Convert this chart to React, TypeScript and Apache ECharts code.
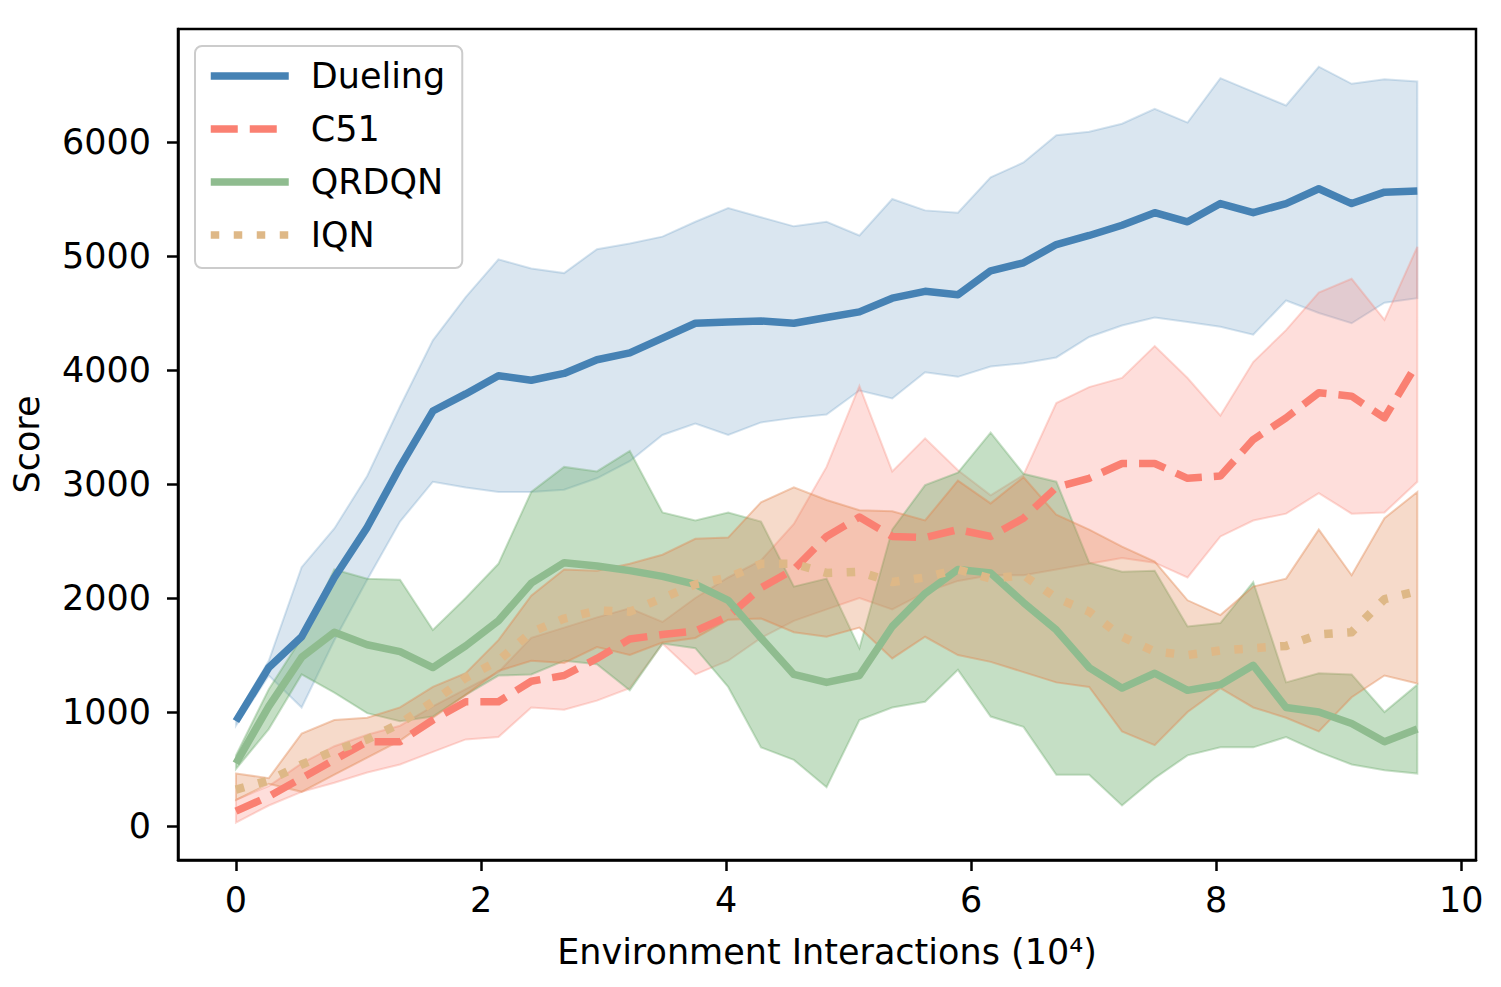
import React, { useEffect, useRef } from "react";
import * as echarts from "echarts";

// x positions (10^4 environment interactions)
const xs = [0, 0.268, 0.536, 0.803, 1.071, 1.339, 1.607, 1.875, 2.142, 2.41, 2.678, 2.946, 3.214, 3.481, 3.749, 4.017, 4.285, 4.553, 4.82, 5.088, 5.356, 5.624, 5.892, 6.159, 6.427, 6.695, 6.963, 7.231, 7.498, 7.766, 8.034, 8.302, 8.57, 8.837, 9.105, 9.373, 9.641];

const duelingMean = [920, 1390, 1660, 2180, 2620, 3150, 3640, 3790, 3950, 3910, 3970, 4090, 4150, 4280, 4410, 4420, 4430, 4410, 4460, 4510, 4630, 4690, 4660, 4870, 4940, 5100, 5180, 5270, 5380, 5300, 5460, 5380, 5460, 5590, 5460, 5560, 5570];
const duelingUpper = [960, 1450, 2270, 2610, 3070, 3680, 4260, 4640, 4970, 4890, 4850, 5060, 5110, 5170, 5300, 5420, 5340, 5260, 5300, 5180, 5500, 5400, 5380, 5690, 5820, 6060, 6090, 6160, 6290, 6170, 6560, 6440, 6320, 6660, 6510, 6550, 6530];
const duelingLower = [880, 1320, 1040, 1630, 2160, 2670, 3020, 2970, 2930, 2930, 2950, 3050, 3200, 3430, 3530, 3430, 3540, 3580, 3610, 3820, 3750, 3980, 3940, 4030, 4060, 4110, 4290, 4390, 4460, 4420, 4380, 4310, 4610, 4500, 4410, 4590, 4630];

const c51Mean = [130, 260, 420, 580, 740, 740, 930, 1090, 1090, 1270, 1320, 1470, 1640, 1680, 1710, 1840, 2090, 2250, 2540, 2710, 2540, 2530, 2600, 2540, 2700, 2970, 3050, 3180, 3180, 3050, 3070, 3390, 3580, 3800, 3770, 3580, 4060];
const c51Upper = [230, 350, 550, 700, 800, 880, 1050, 1200, 1350, 1650, 1740, 1830, 1910, 1790, 2000, 2180, 2330, 2650, 3150, 3860, 3110, 3400, 3120, 2900, 3080, 3710, 3850, 3930, 4210, 3930, 3600, 4070, 4350, 4680, 4800, 4440, 5080];
const c51Lower = [30, 180, 300, 380, 470, 540, 650, 760, 780, 1040, 1020, 1100, 1210, 1600, 1330, 1450, 1650, 1800, 1900, 2000, 1900, 2050, 2150, 2200, 2200, 2250, 2300, 2350, 2310, 2180, 2540, 2680, 2740, 2920, 2740, 2750, 3020];

const qrdqnMean = [550, 1050, 1480, 1700, 1590, 1530, 1390, 1580, 1800, 2130, 2310, 2280, 2240, 2190, 2120, 1980, 1650, 1330, 1260, 1320, 1750, 2040, 2250, 2220, 1960, 1720, 1390, 1210, 1340, 1190, 1240, 1410, 1040, 1000, 900, 740, 850];
const qrdqnUpper = [620, 1200, 1650, 2250, 2170, 2160, 1720, 2000, 2300, 2930, 3150, 3110, 3290, 2750, 2680, 2750, 2670, 2100, 2170, 1560, 2600, 2990, 3100, 3450, 3090, 3020, 2310, 2230, 2240, 1750, 1780, 2140, 1260, 1340, 1330, 1000, 1240];
const qrdqnLower = [500, 850, 1330, 1170, 990, 920, 960, 1150, 1320, 1330, 1450, 1420, 1190, 1600, 1560, 1220, 690, 580, 340, 930, 1040, 1090, 1370, 960, 870, 450, 450, 180, 420, 620, 690, 690, 780, 650, 540, 490, 460];

const iqnMean = [320, 400, 540, 660, 760, 900, 1090, 1300, 1450, 1700, 1820, 1890, 1880, 2000, 2120, 2180, 2300, 2300, 2220, 2230, 2140, 2180, 2250, 2170, 2200, 2000, 1880, 1660, 1530, 1500, 1540, 1560, 1580, 1680, 1700, 1990, 2060];
const iqnUpper = [460, 420, 810, 930, 950, 1040, 1220, 1340, 1630, 2020, 2250, 2240, 2300, 2380, 2520, 2530, 2840, 2970, 2860, 2770, 2760, 2680, 3030, 2830, 3060, 2730, 2600, 2450, 2320, 1980, 1850, 2100, 2170, 2600, 2200, 2700, 2930];
const iqnLower = [230, 370, 300, 450, 600, 750, 950, 1150, 1360, 1450, 1430, 1570, 1500, 1610, 1650, 1810, 1820, 1700, 1660, 1740, 1470, 1660, 1500, 1440, 1350, 1260, 1220, 830, 710, 1000, 1210, 1040, 950, 830, 1130, 1320, 1250];

const xTicks = [0, 2, 4, 6, 8, 10];
const yTicks = [0, 1000, 2000, 3000, 4000, 5000, 6000];
const legendNames = ["Dueling", "C51", "QRDQN", "IQN"];

const FONT = "DejaVu Sans";

function bandSeries(name: string, lower: number[], upper: number[], fill: string, stroke: string) {
  return {
    type: "custom",
    name,
    silent: true,
    z: 1,
    data: xs.map((x, i) => [x, lower[i], upper[i]]),
    encode: { x: 0, y: [1, 2] },
    renderItem: (params: any, api: any) => {
      if (params.dataIndex !== 0) return null;
      const pts: number[][] = [];
      for (let i = 0; i < xs.length; i++) pts.push(api.coord([xs[i], upper[i]]));
      for (let i = xs.length - 1; i >= 0; i--) pts.push(api.coord([xs[i], lower[i]]));
      return {
        type: "polygon",
        shape: { points: pts },
        style: { fill, stroke, lineWidth: 2 },
      };
    },
  };
}

function lineSeries(name: string, mean: number[], color: string, width: number, type: any) {
  return {
    type: "line",
    name,
    z: 3,
    symbol: "none",
    showSymbol: false,
    data: xs.map((x, i) => [x, mean[i]]),
    itemStyle: { color },
    lineStyle: { color, width, type, cap: "butt", join: "round" },
  };
}

export default function App() {
  const ref = useRef<HTMLDivElement>(null);
  useEffect(() => {
    if (!ref.current) return;
    const chart = echarts.init(ref.current, null, { renderer: "svg" });
    const axisFont = { fontFamily: FONT, fontSize: 35, color: "#000" };
    chart.setOption({
      animation: false,
      backgroundColor: "#fff",
      textStyle: { fontFamily: FONT },
      grid: {
        left: 178,
        right: 25,
        top: 29,
        bottom: 127,
        show: true,
        borderColor: "#000",
        borderWidth: 2.5,
        backgroundColor: "transparent",
      },
      legend: {
        data: legendNames,
        orient: "vertical",
        left: 195,
        top: 46,
        padding: [10, 17, 13, 12],
        itemWidth: 78,
        itemHeight: 40,
        itemGap: 13,
        borderColor: "#cccccc",
        borderWidth: 2,
        borderRadius: 7,
        backgroundColor: "rgba(255,255,255,0.8)",
        lineStyle: { width: 7.5 },
        itemStyle: { opacity: 0 },
        textStyle: { fontFamily: FONT, fontSize: 35, color: "#000", lineHeight: 40, padding: [0, 0, 0, 17] },
        selectedMode: false,
      },
      xAxis: {
        type: "value",
        min: -0.473,
        max: 10.12,
        name: "Environment Interactions (10⁴)",
        nameLocation: "middle",
        nameGap: 74,
        nameTextStyle: axisFont,
        axisLine: { show: true, onZero: false, lineStyle: { color: "#000", width: 2.5 } },
        axisTick: { show: true, length: 11, customValues: xTicks, lineStyle: { color: "#000", width: 2.5 } },
        axisLabel: { customValues: xTicks, margin: 22, formatter: (v: number) => String(v), ...axisFont },
        splitLine: { show: false },
      },
      yAxis: {
        type: "value",
        min: -298,
        max: 6991,
        name: "Score",
        nameLocation: "middle",
        nameGap: 134,
        nameRotate: 90,
        nameTextStyle: axisFont,
        axisLine: { show: true, onZero: false, lineStyle: { color: "#000", width: 2.5 } },
        axisTick: { show: true, length: 11, customValues: yTicks, lineStyle: { color: "#000", width: 2.5 } },
        axisLabel: { customValues: yTicks, margin: 27, formatter: (v: number) => String(v), ...axisFont },
        splitLine: { show: false },
      },
      series: [
        bandSeries("Dueling band", duelingLower, duelingUpper, "rgba(70,130,180,0.2)", "rgba(70,130,180,0.22)"),
        bandSeries("C51 band", c51Lower, c51Upper, "rgba(250,128,114,0.26)", "rgba(250,128,114,0.3)"),
        bandSeries("QRDQN band", qrdqnLower, qrdqnUpper, "rgba(110,175,110,0.4)", "rgba(100,165,100,0.35)"),
        bandSeries("IQN band", iqnLower, iqnUpper, "rgba(225,132,78,0.3)", "rgba(225,132,78,0.4)"),
        lineSeries("Dueling", duelingMean, "#4682B4", 7.5, "solid"),
        lineSeries("C51", c51Mean, "#FA8072", 7.5, [27, 12]),
        lineSeries("QRDQN", qrdqnMean, "#8FBC8F", 7.5, "solid"),
        lineSeries("IQN", iqnMean, "#DEB887", 8.5, [8.5, 14.5]),
      ],
    });
    return () => chart.dispose();
  }, []);
  return (
    <div
      ref={ref}
      style={{ position: "fixed", left: 0, top: 0, width: 1501, height: 987, background: "#fff" }}
    />
  );
}
